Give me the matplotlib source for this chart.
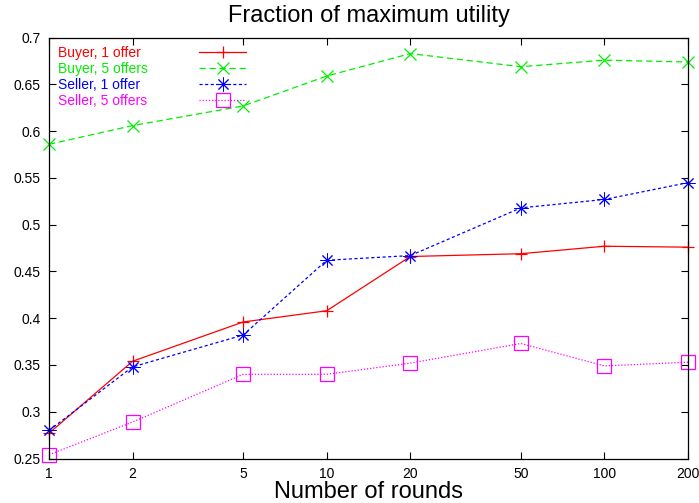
import matplotlib
matplotlib.use("Agg")
import matplotlib.pyplot as plt
from matplotlib.lines import Line2D

plt.rcParams["font.family"] = ["Liberation Sans", "DejaVu Sans"]

# ------------------------------------------------------------------ data
rounds = [1, 2, 5, 10, 20, 50, 100, 200]
buyer_1 = [0.277, 0.354, 0.396, 0.408, 0.466, 0.469, 0.477, 0.476]
buyer_5 = [0.586, 0.606, 0.627, 0.659, 0.683, 0.669, 0.676, 0.674]
seller_1 = [0.280, 0.348, 0.382, 0.462, 0.467, 0.518, 0.527, 0.545]
seller_5 = [0.254, 0.289, 0.340, 0.340, 0.352, 0.373, 0.349, 0.353]

series_labels = ["Buyer, 1 offer", "Buyer, 5 offers", "Seller, 1 offer", "Seller, 5 offers"]
x_ticks = [1, 2, 5, 10, 20, 50, 100, 200]
x_ticklabels = ["1", "2", "5", "10", "20", "50", "100", "200"]
y_ticks = [0.25, 0.3, 0.35, 0.4, 0.45, 0.5, 0.55, 0.6, 0.65, 0.7]
y_ticklabels = ["0.25", "0.3", "0.35", "0.4", "0.45", "0.5", "0.55", "0.6", "0.65", "0.7"]

# ------------------------------------------------------------------ styles
styles = [
    dict(color="#ff0000", ls="-", marker="+", ms=9, mew=0.9),
    dict(color="#00ee00", ls=(0, (5, 3)), marker="x", ms=9, mew=0.9),
    dict(color="#0000ff", ls=(0, (2.5, 2)), marker=(8, 2, 0), ms=10, mew=0.7),
    dict(color="#ff00ff", ls=(0, (1, 1.5)), marker="s", ms=9.5, mew=0.9, mfc="none"),
]

fig = plt.figure(figsize=(6.99, 5.03), dpi=100)
ax = fig.add_axes([49 / 699, 1 - 458.5 / 503, 639 / 699, 420.8 / 503])

handles = []
for ys, st in zip([buyer_1, buyer_5, seller_1, seller_5], styles):
    ln, = ax.plot(rounds, ys, lw=0.9, clip_on=False, **st)
    handles.append(ln)

ax.set_xscale("log")
ax.set_xlim(1, 200)
ax.set_ylim(0.25, 0.7)
ax.set_xticks(x_ticks)
ax.set_xticklabels(x_ticklabels)
ax.minorticks_off()
ax.set_yticks(y_ticks)
ax.set_yticklabels(y_ticklabels)
ax.tick_params(direction="in", length=5, width=0.8, top=True, right=True,
               labelsize=10, colors="black")
ax.tick_params(axis="x", pad=6)
ax.tick_params(axis="y", pad=6)
for s in ax.spines.values():
    s.set_linewidth(0.9)

ax.set_title("Fraction of maximum utility", fontsize=17, pad=11)
ax.set_xlabel("Number of rounds", fontsize=17, labelpad=0)

# gnuplot-like key: left-aligned coloured labels, samples in a column to the right
blank = [Line2D([], [], ls="none") for _ in series_labels]
leg = ax.legend(blank + handles, series_labels + [" "] * 4, ncol=2,
                loc="upper left", bbox_to_anchor=(-0.0685, 0.981),
                frameon=False, fontsize=10, handlelength=3.4,
                handletextpad=0.4, columnspacing=3.7, labelspacing=0.14,
                borderpad=0, borderaxespad=0)
for txt, st in zip(leg.get_texts()[:4], styles):
    txt.set_color(st["color"])

fig.savefig("out.png", dpi=100)
